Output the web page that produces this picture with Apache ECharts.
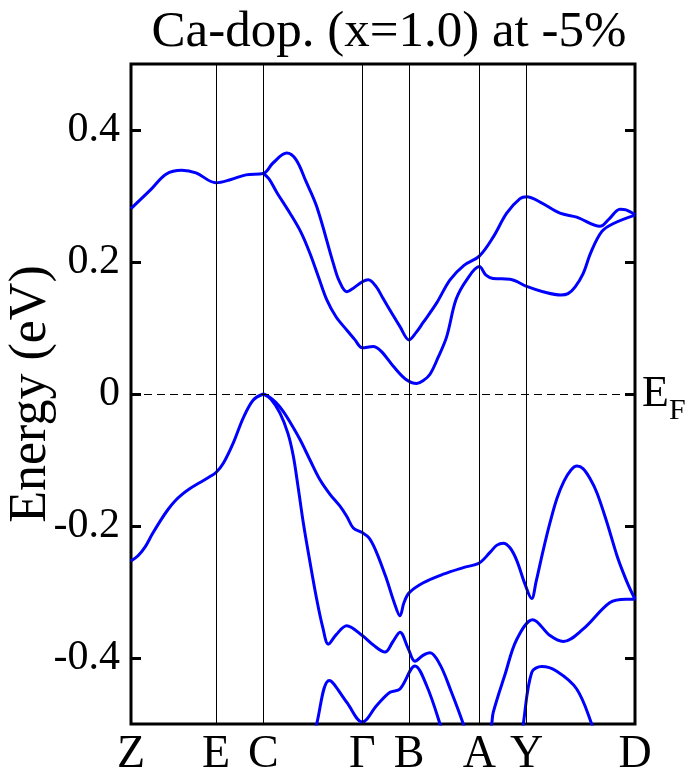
<!DOCTYPE html>
<html>
<head>
<meta charset="utf-8">
<script src="https://cdn.jsdelivr.net/npm/echarts@6/dist/echarts.min.js"></script>
<style>
html, body { margin: 0; padding: 0; background: #fff; }
#chart { width: 691px; height: 774px; }
</style>
</head>
<body>
<div id="chart"></div>
<script>
// k-path positions of the high symmetry points (path length units)
const kLabels = ['Z', 'E', 'C', 'Γ', 'B', 'A', 'Y', 'D'];
const kPos = [0, 85, 132.3, 231.3, 278, 348.3, 395.7, 504];
const yTicks = [-0.4, -0.2, 0, 0.2, 0.4];

// conduction bands, [k, E]
const cbUpper = [
  [0, 0.281], [20, 0.31], [35, 0.333], [50.7, 0.339], [65, 0.335], [85, 0.320],
  [100, 0.325], [115, 0.332], [132.3, 0.334], [142, 0.350], [155.7, 0.365],
  [165, 0.355], [175, 0.322], [185.7, 0.284], [202.3, 0.198], [208, 0.172],
  [215.7, 0.155], [222, 0.160], [231.3, 0.170], [237.3, 0.173], [245, 0.163],
  [252, 0.145], [261, 0.122], [269, 0.102], [278, 0.082], [285, 0.093],
  [292, 0.108], [305.7, 0.138], [319, 0.173], [333, 0.195], [348.3, 0.209],
  [362.3, 0.238], [375.7, 0.274], [389, 0.296], [395.7, 0.299], [410, 0.290],
  [429, 0.274], [445.7, 0.268], [469, 0.254], [478, 0.265], [489, 0.280],
  [495, 0.279], [504, 0.272]
];
const cbLower = [
  [132.3, 0.334], [138, 0.326], [146, 0.305], [159, 0.274], [170, 0.245],
  [179, 0.213], [188, 0.175], [195.7, 0.143], [205, 0.117], [215.7, 0.097],
  [224, 0.082], [231.3, 0.070], [242, 0.072], [250, 0.065], [262.3, 0.042],
  [275, 0.022], [285.7, 0.016], [292, 0.020], [299, 0.030], [307, 0.055],
  [315.7, 0.087], [325, 0.143], [335.7, 0.173], [348.3, 0.193], [355, 0.180],
  [362, 0.175], [379, 0.174], [395.7, 0.163], [412, 0.155], [430, 0.150],
  [437, 0.152], [444, 0.162], [452, 0.182], [460, 0.215], [470.7, 0.246],
  [482, 0.258], [504, 0.271]
];

// valence bands, [k, E]
const vb1 = [
  [0, -0.253], [7, -0.245], [14, -0.232], [21, -0.213], [29, -0.193],
  [37, -0.175], [44, -0.162], [52, -0.151], [59, -0.143], [69, -0.134],
  [79, -0.125], [85, -0.119], [92.3, -0.105], [102.3, -0.074],
  [112.3, -0.036], [122.3, -0.009], [132.3, 0]
];
const vb2 = [
  [132.3, 0], [138, -0.004], [145, -0.013], [152, -0.026], [160, -0.045],
  [169, -0.069], [179, -0.100], [189, -0.130], [199, -0.152], [209, -0.170],
  [216, -0.186], [222.3, -0.203], [231.3, -0.210], [238, -0.218],
  [245, -0.238], [255.7, -0.281], [263, -0.315], [269, -0.336],
  [273, -0.316], [278.3, -0.301], [292.3, -0.286], [312.3, -0.273],
  [332.3, -0.263], [348.3, -0.256], [359, -0.240], [366, -0.229],
  [372.3, -0.226], [379, -0.233], [385.7, -0.252], [394, -0.288],
  [400.7, -0.310], [405, -0.285], [412, -0.238], [419, -0.195],
  [426, -0.158], [433, -0.132], [440, -0.115], [446, -0.109],
  [452, -0.113], [459, -0.128], [466, -0.150], [476, -0.195],
  [486, -0.245], [492.3, -0.271], [498, -0.292], [504, -0.311]
];
const vb3 = [
  [132.3, 0], [140, -0.008], [149, -0.029], [157, -0.060], [162.3, -0.094],
  [167, -0.140], [172.3, -0.195], [177.3, -0.240], [185.7, -0.311],
  [192, -0.355], [197.3, -0.379], [205, -0.365], [215.7, -0.351],
  [231.3, -0.366], [242, -0.380], [254, -0.391], [262, -0.375],
  [269, -0.361], [277, -0.385], [284, -0.405], [292, -0.396],
  [299, -0.392], [309, -0.410], [320, -0.450], [332.3, -0.500], [336, -0.520]
];
const vb4 = [
  [358, -0.520], [360.7, -0.500], [362.3, -0.482], [374, -0.425],
  [385.7, -0.372], [401.7, -0.342], [419, -0.366], [432.3, -0.375],
  [452.3, -0.356], [479, -0.316], [495, -0.311], [504, -0.311]
];
const vb5 = [
  [389, -0.540], [392.3, -0.500], [400.7, -0.422], [410.7, -0.413],
  [425.7, -0.420], [445.7, -0.447], [460.7, -0.500], [464, -0.520]
];
const vb6 = [
  [182, -0.530], [185.7, -0.500], [198.3, -0.434], [215.7, -0.467],
  [231.3, -0.497], [245.7, -0.472], [259, -0.452], [269, -0.447],
  [284, -0.412], [295.7, -0.442], [309, -0.500], [312, -0.520]
];

const bands = [cbUpper, cbLower, vb1, vb2, vb3, vb4, vb5, vb6];

const serif = "'Liberation Serif', 'Times New Roman', serif";
const chart = echarts.init(document.getElementById('chart'));

const series = bands.map(function (b) {
  return {
    type: 'line',
    data: b,
    smooth: 0.35,
    showSymbol: false,
    clip: true,
    lineStyle: { color: '#0000ff', width: 3 },
    z: 3
  };
});

// vertical lines at high-symmetry points + Fermi level
series.push({
  type: 'line',
  data: [],
  markLine: {
    silent: true,
    symbol: 'none',
    label: { show: false },
    animation: false,
    data: kPos.slice(1, -1).map(function (k) {
      return { xAxis: k, lineStyle: { color: '#000', width: 1, type: 'solid' } };
    }).concat([
      { yAxis: 0, lineStyle: { color: '#000', width: 1, type: [8, 5] } }
    ])
  },
  z: 2
});

chart.setOption({
  animation: false,
  title: {
    text: 'Ca-dop. (x=1.0) at -5%',
    left: 384,
    textAlign: 'center',
    top: 2,
    textStyle: { fontFamily: serif, fontSize: 51, fontWeight: 'normal', color: '#000' }
  },
  grid: {
    left: 131, right: 56, top: 64, bottom: 50,
    outerBoundsMode: 'none',
    show: true, borderColor: '#000', borderWidth: 3, backgroundColor: 'transparent'
  },
  xAxis: {
    type: 'value',
    min: 0,
    max: 504,
    axisLine: { show: false },
    splitLine: { show: false },
    axisTick: { show: false },
    axisLabel: {
      customValues: kPos,
      formatter: function (v) {
        const i = kPos.indexOf(v);
        return i >= 0 ? kLabels[i] : '';
      },
      margin: 8,
      fontFamily: serif,
      fontSize: 46,
      color: '#000'
    }
  },
  yAxis: [
    {
      type: 'value',
      min: -0.5,
      max: 0.5,
      position: 'left',
      name: 'Energy (eV)',
      nameLocation: 'middle',
      nameGap: 74,
      nameMoveOverlap: false,
      nameTextStyle: { fontFamily: serif, fontSize: 52, color: '#000' },
      axisLine: { show: false },
      splitLine: { show: false },
      axisTick: {
        show: true, inside: true, length: 10, customValues: yTicks,
        lineStyle: { color: '#000', width: 3 }
      },
      axisLabel: {
        customValues: yTicks,
        formatter: function (v) { return String(Math.round(v * 10) / 10); },
        margin: 11,
        fontFamily: serif,
        fontSize: 42,
        color: '#000'
      }
    },
    {
      type: 'value',
      min: -0.5,
      max: 0.5,
      position: 'right',
      axisLine: { show: false },
      splitLine: { show: false },
      axisTick: {
        show: true, inside: true, length: 10, customValues: yTicks,
        lineStyle: { color: '#000', width: 3 }
      },
      axisLabel: {
        customValues: [0],
        formatter: function () { return '{e|E}{f|F}'; },
        margin: 7,
        rich: {
          e: { fontFamily: serif, fontSize: 44, color: '#000' },
          f: { fontFamily: serif, fontSize: 30, color: '#000', padding: [34, 0, 0, 0] }
        }
      }
    }
  ],
  series: series
});
</script>
</body>
</html>
